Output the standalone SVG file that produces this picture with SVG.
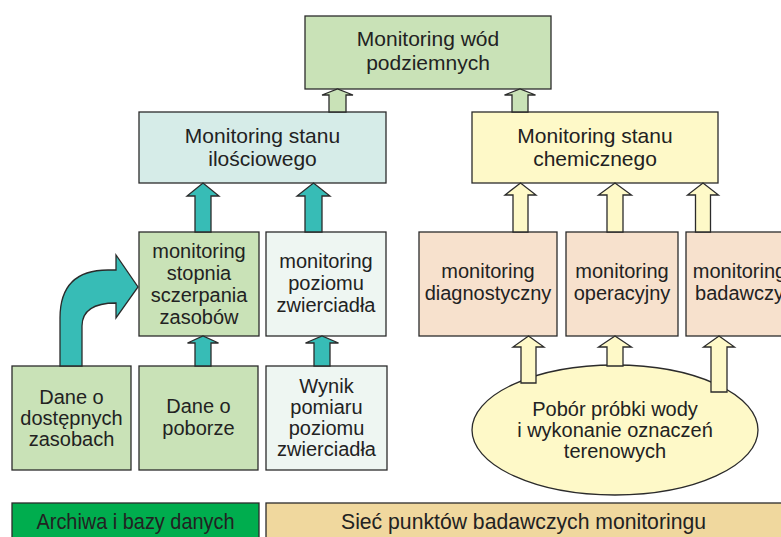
<svg xmlns="http://www.w3.org/2000/svg" width="781" height="537" viewBox="0 0 781 537">
<style>
.b{stroke:#2b2b2b;stroke-width:1.3}
.g{fill:#c9e2b7}
.c{fill:#d6ece8}
.w{fill:#eef6f2}
.y{fill:#fef9c8}
.p{fill:#f7e1cd}
.t{fill:#37bcb6}
text{font-family:"Liberation Sans",Arial,sans-serif;font-size:20px;fill:#222;text-anchor:middle}
.h{font-size:21px}
.n{font-size:22px}
</style>
<rect width="781" height="537" fill="#fff"/>
<g id="top">
<rect class="b g" x="305" y="16" width="246" height="73"/>
<text class="h" x="428" y="46">Monitoring wód</text>
<text class="h" x="428" y="70">podziemnych</text>
</g>
<g id="ilosciowy">
<rect class="b c" x="139" y="112" width="247" height="71"/>
<text class="h" x="262.5" y="143">Monitoring stanu</text>
<text class="h" x="262.5" y="166">ilościowego</text>
</g>
<g id="chemiczny">
<rect class="b y" x="472" y="112" width="246" height="71"/>
<text class="h" x="595" y="143">Monitoring stanu</text>
<text class="h" x="595" y="166">chemicznego</text>
</g>
<g id="stopnia">
<rect class="b g" x="139" y="232" width="120" height="104"/>
<text x="199" y="258">monitoring</text>
<text x="199" y="280">stopnia</text>
<text x="199" y="302">sczerpania</text>
<text x="199" y="324">zasobów</text>
</g>
<g id="poziomu">
<rect class="b w" x="266" y="232" width="120" height="104"/>
<text x="326" y="268">monitoring</text>
<text x="326" y="290">poziomu</text>
<text x="326" y="312">zwierciadła</text>
</g>
<g id="diagnostyczny">
<rect class="b p" x="419" y="232" width="138" height="104"/>
<text x="488" y="278">monitoring</text>
<text x="488" y="300">diagnostyczny</text>
</g>
<g id="operacyjny">
<rect class="b p" x="566" y="232" width="112" height="104"/>
<text x="622" y="278">monitoring</text>
<text x="622" y="300">operacyjny</text>
</g>
<g id="badawczy">
<rect class="b p" x="686" y="232" width="107" height="104"/>
<text x="739.5" y="278">monitoring</text>
<text x="739.5" y="300">badawczy</text>
</g>
<g id="dostepne">
<rect class="b g" x="12" y="366" width="119" height="104"/>
<text x="71.5" y="404">Dane o</text>
<text x="71.5" y="425">dostępnych</text>
<text x="71.5" y="446">zasobach</text>
</g>
<g id="pobor">
<rect class="b g" x="139" y="366" width="119" height="104"/>
<text x="198.5" y="413">Dane o</text>
<text x="198.5" y="435">poborze</text>
</g>
<g id="wynik">
<rect class="b w" x="266" y="366" width="121" height="104"/>
<text x="326.5" y="393">Wynik</text>
<text x="326.5" y="414">pomiaru</text>
<text x="326.5" y="435">poziomu</text>
<text x="326.5" y="456">zwierciadła</text>
</g>
<g id="probka">
<ellipse class="b y" cx="615" cy="430" rx="143" ry="65"/>
<text x="615" y="416">Pobór próbki wody</text>
<text x="615" y="437">i wykonanie oznaczeń</text>
<text x="615" y="458">terenowych</text>
</g>
<g id="archiwa">
<rect class="b" fill="#00ad4e" x="12" y="503" width="247" height="40"/>
<text class="n" x="135.5" y="529" textLength="198" lengthAdjust="spacingAndGlyphs">Archiwa i bazy danych</text>
</g>
<g id="siec">
<rect class="b" fill="#f0d89e" x="266" y="503" width="530" height="40"/>
<text class="n" x="523.5" y="529" textLength="365" lengthAdjust="spacingAndGlyphs">Sieć punktów badawczych monitoringu</text>
</g>
<g id="connectors">
<path class="b g" d="M329 112V95H322L337.5 89L353 95H346V112Z"/>
<path class="b g" d="M512 112V95H504.5L520 89L535.5 95H528V112Z"/>
<path class="b t" d="M195 232V196H187L203 183L219 196H211V232Z"/>
<path class="b t" d="M305 232V196H297L313.5 183L330 196H322V232Z"/>
<path class="b t" d="M195 366V343H187.5L203 336L218.5 343H211V366Z"/>
<path class="b t" d="M314 366V343H305.5L322 336L338.5 343H330V366Z"/>
<path class="b t" d="M60 366V318Q60 270 108 270H116V255L138 287L116 318V303Q82 303 82 326V366Z"/>
<path class="b y" d="M513 232V195H505L520.5 183L536 195H528V232Z"/>
<path class="b y" d="M607 232V195H598.5L615 183L631.5 195H623V232Z"/>
<path class="b y" d="M695.5 232V195H687.5L703 183L718.5 195H710.5V232Z"/>
<path class="b y" d="M521 383V347H513L528.5 336L544 347H536V383Z"/>
<path class="b y" d="M607 366V347H598.5L615 336L631.5 347H623V366Z"/>
<path class="b y" d="M711 392V347H703.5L719 336L734.5 347H727V392Z"/>
</g>
</svg>
